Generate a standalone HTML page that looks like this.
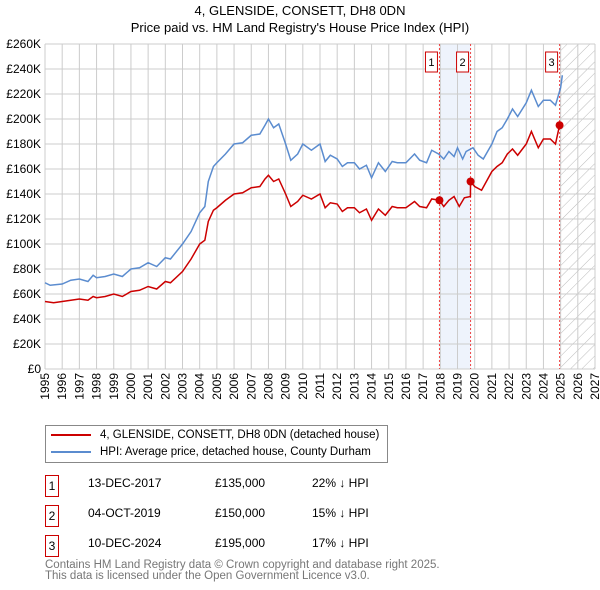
<!DOCTYPE html>
<html><head><meta charset="utf-8"><style>
body{margin:0;background:#fff;font-family:"Liberation Sans","DejaVu Sans",sans-serif;}
#wrap{position:relative;width:600px;height:590px;overflow:hidden}
.t{position:absolute;font-size:12px;color:#000;white-space:nowrap;line-height:14px}
.box{position:absolute;width:12px;height:20px;border:1px solid #c00;font-size:12px;text-align:center;line-height:20px}
</style></head><body><div id="wrap">
<div class="t" style="left:0;width:600px;text-align:center;top:4px;font-size:13px">4, GLENSIDE, CONSETT, DH8 0DN</div>
<div class="t" style="left:0;width:600px;text-align:center;top:21px;font-size:13px">Price paid vs. HM Land Registry's House Price Index (HPI)</div>
<svg id="chart" width="600" height="420" style="position:absolute;left:0;top:0"></svg>
<div style="position:absolute;left:45px;top:425px;width:341px;height:36px;border:1px solid #888">
<div style="position:absolute;left:5px;top:8px;width:40px;height:2px;background:#c00"></div>
<div class="t" style="left:54px;top:2px;font-size:11.5px">4, GLENSIDE, CONSETT, DH8 0DN (detached house)</div>
<div style="position:absolute;left:5px;top:25px;width:40px;height:2px;background:#5b8ccf"></div>
<div class="t" style="left:54px;top:19px;font-size:11.5px">HPI: Average price, detached house, County Durham</div>
</div>
<div class="box" style="left:45px;top:475px">1</div>
<div class="t" style="left:88px;top:476px">13-DEC-2017</div>
<div class="t" style="left:215px;top:476px">£135,000</div>
<div class="t" style="left:312px;top:476px">22% ↓ HPI</div>
<div class="box" style="left:45px;top:505px">2</div>
<div class="t" style="left:88px;top:506px">04-OCT-2019</div>
<div class="t" style="left:215px;top:506px">£150,000</div>
<div class="t" style="left:312px;top:506px">15% ↓ HPI</div>
<div class="box" style="left:45px;top:535px">3</div>
<div class="t" style="left:88px;top:536px">10-DEC-2024</div>
<div class="t" style="left:215px;top:536px">£195,000</div>
<div class="t" style="left:312px;top:536px">17% ↓ HPI</div>
<div class="t" style="left:45px;top:560px;color:#777;line-height:11px;font-size:11.5px">Contains HM Land Registry data © Crown copyright and database right 2025.<br>This data is licensed under the Open Government Licence v3.0.</div>
</div>
<script>
const hpiYears=[1995,1995.3,1996,1996.5,1997,1997.5,1997.8,1998,1998.5,1999,1999.5,2000,2000.5,2001,2001.5,2002,2002.3,2003,2003.5,2004,2004.3,2004.5,2004.8,2005,2005.5,2006,2006.5,2007,2007.5,2007.8,2008,2008.3,2008.6,2009,2009.3,2009.7,2010,2010.5,2011,2011.3,2011.6,2012,2012.3,2012.6,2013,2013.3,2013.7,2014,2014.4,2014.8,2015.2,2015.5,2016,2016.5,2016.8,2017.2,2017.5,2017.9,2018.2,2018.5,2018.8,2019,2019.3,2019.5,2019.9,2020.2,2020.5,2021,2021.3,2021.6,2021.9,2022.2,2022.5,2023,2023.3,2023.7,2024,2024.4,2024.7,2025,2025.1];
const hpiValues=[69,67,68,71,72,70,75,73,74,76,74,80,81,85,82,89,88,100,110,125,130,150,162,165,172,180,181,187,188,195,200,193,196,180,167,172,180,175,180,166,171,168,162,165,165,160,163,153,165,158,166,165,165,172,167,165,175,172,168,174,170,177,168,174,177,171,168,180,190,193,200,208,202,213,223,210,215,215,211,225,235];
const priceYears=[1995,1995.5,1996,1996.5,1997,1997.5,1997.8,1998,1998.5,1999,1999.5,2000,2000.5,2001,2001.5,2002,2002.3,2003,2003.5,2004,2004.3,2004.5,2004.8,2005,2005.5,2006,2006.5,2007,2007.5,2007.8,2008,2008.3,2008.6,2009,2009.3,2009.7,2010,2010.5,2011,2011.3,2011.6,2012,2012.3,2012.6,2013,2013.3,2013.7,2014,2014.4,2014.8,2015.2,2015.5,2016,2016.5,2016.8,2017.2,2017.5,2017.95,2018.2,2018.5,2018.8,2019.1,2019.4,2019.75,2019.76,2020,2020.4,2021,2021.3,2021.6,2021.9,2022.2,2022.5,2023,2023.3,2023.7,2024,2024.4,2024.7,2024.94];
const priceValues=[54,53,54,55,56,55,58,57,58,60,58,62,63,66,64,70,69,78,88,100,103,118,127,129,135,140,141,145,146,152,155,150,152,140,130,134,139,136,140,129,133,132,126,129,129,125,128,119,128,123,130,129,129,134,130,129,136,135,130,135,138,130,137,138,150,146,143,158,162,165,172,176,171,180,190,177,184,184,180,195];
const saleYears=[2017.95,2019.76,2024.94];
const saleValues=[135,150,195];
const saleLabels=["1","2","3"];
const yTicks=[0,20,40,60,80,100,120,140,160,180,200,220,240,260];
const xTicks=[];for(let y=1995;y<=2027;y++)xTicks.push(y);
const X0=45,X1=595,Y0=369,Y1=44;
const sx=y=>X0+(y-1995)/(2027-1995)*(X1-X0);
const sy=v=>Y0-v/260*(Y0-Y1);
const svg=document.getElementById('chart');const NS='http://www.w3.org/2000/svg';
function mk(t,a){const e=document.createElementNS(NS,t);for(const k in a)e.setAttribute(k,a[k]);svg.appendChild(e);return e;}
let e;
e=mk('defs',{});e.innerHTML='<pattern id="hatch" width="8" height="8" patternUnits="userSpaceOnUse" patternTransform="rotate(45)"><line x1="0" y1="0" x2="0" y2="8" stroke="#bbb" stroke-width="1"/></pattern>';
e=mk('rect',{x:sx(saleYears[0]),y:Y1,width:sx(saleYears[1])-sx(saleYears[0]),height:Y0-Y1,fill:'#eef3fc'});


e=mk('rect',{x:sx(2025),y:Y1,width:X1-sx(2025),height:Y0-Y1,fill:'url(#hatch)'});


yTicks.forEach(v=>{mk('line',{x1:X0,x2:X1,y1:sy(v),y2:sy(v),stroke:'#ccc'});
e=mk('text',{x:X0-4,y:sy(v)+4,'text-anchor':'end','font-size':12});e.textContent='£'+(v?v+'K':'0');

});
xTicks.forEach(y=>{mk('line',{x1:sx(y),x2:sx(y),y1:Y1,y2:Y0,stroke:'#ccc'});
e=mk('text',{x:0,y:0,'font-size':12,transform:`translate(${sx(y)+4},${Y0+4}) rotate(-90)`,'text-anchor':'end'});e.textContent=y;

});
saleYears.forEach((y,i)=>{mk('line',{x1:sx(y),x2:sx(y),y1:Y1,y2:Y0,stroke:'#e44','stroke-dasharray':'2,2'});
e=mk('rect',{x:sx(y)-14,y:52,width:12,height:20,fill:'#fff',stroke:'#c00'});


e=mk('text',{x:sx(y)-8,y:66,'text-anchor':'middle','font-size':11});e.textContent=saleLabels[i];

});
e=mk('polyline',{points:hpiYears.map((y,i)=>sx(y)+','+sy(hpiValues[i])).join(' '),fill:'none',stroke:'#5b8ccf','stroke-width':1.5});


e=mk('polyline',{points:priceYears.map((y,i)=>sx(y)+','+sy(priceValues[i])).join(' '),fill:'none',stroke:'#c00','stroke-width':1.5});


saleYears.forEach((y,i)=>{e=mk('circle',{cx:sx(y),cy:sy(saleValues[i]),r:4,fill:'#c00'});

});
</script></body></html>
